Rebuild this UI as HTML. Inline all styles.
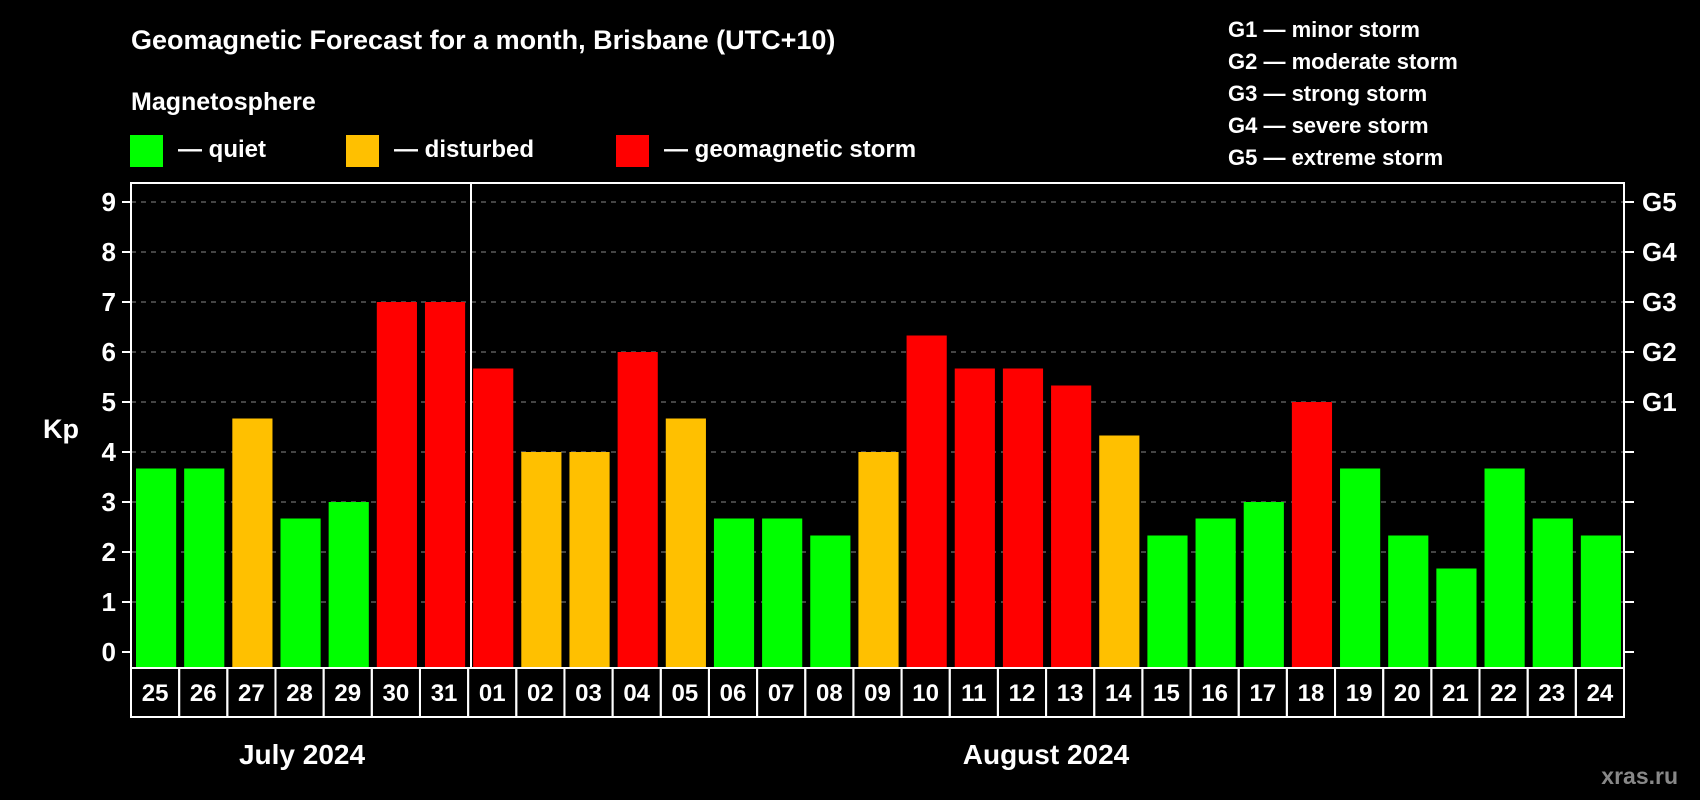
<!DOCTYPE html>
<html><head><meta charset="utf-8"><style>
body{margin:0;background:#000;}
svg{display:block;font-family:"Liberation Sans",Arial,sans-serif;font-weight:bold;}
</style></head><body>
<svg id="chart" width="1700" height="800" viewBox="0 0 1700 800">
<rect x="0" y="0" width="1700" height="800" fill="#000"/>
<text x="131" y="49" fill="#fff" font-size="27">Geomagnetic Forecast for a month, Brisbane (UTC+10)</text>
<text x="131" y="110" fill="#fff" font-size="25">Magnetosphere</text>
<rect x="130" y="135" width="33" height="32" fill="#00ff00"/>
<text x="178" y="157" fill="#fff" font-size="24">— quiet</text>
<rect x="346" y="135" width="33" height="32" fill="#ffc000"/>
<text x="394" y="157" fill="#fff" font-size="24">— disturbed</text>
<rect x="616" y="135" width="33" height="32" fill="#ff0000"/>
<text x="664" y="157" fill="#fff" font-size="24">— geomagnetic storm</text>
<g font-size="22" fill="#fff">
<text x="1228" y="37">G1 — minor storm</text>
<text x="1228" y="69">G2 — moderate storm</text>
<text x="1228" y="101">G3 — strong storm</text>
<text x="1228" y="133">G4 — severe storm</text>
<text x="1228" y="165">G5 — extreme storm</text>
</g>
<text x="43" y="438" fill="#fff" font-size="27">Kp</text>
<g id="grid"></g>
<g id="bars"></g>
<g id="cells"></g>
<rect x="131" y="183" width="1493" height="485" fill="none" stroke="#fff" stroke-width="2"/>
<line x1="471" y1="183" x2="471" y2="668" stroke="#fff" stroke-width="2"/>
<text x="302" y="764" fill="#fff" font-size="28" text-anchor="middle">July 2024</text>
<text x="1046" y="764" fill="#fff" font-size="28" text-anchor="middle">August 2024</text>
<text x="1678" y="784" fill="#888" font-size="23" text-anchor="end">xras.ru</text>
</svg>
<script>
const days = ["25","26","27","28","29","30","31","01","02","03","04","05","06","07","08","09","10","11","12","13","14","15","16","17","18","19","20","21","22","23","24"];
const kp = [3.67,3.67,4.67,2.67,3,7,7,5.67,4,4,6,4.67,2.67,2.67,2.33,4,6.33,5.67,5.67,5.33,4.33,2.33,2.67,3,5,3.67,2.33,1.67,3.67,2.67,2.33];
const yTicks = [0,1,2,3,4,5,6,7,8,9];
const gLabels = ["G1","G2","G3","G4","G5"];
const gLevels = [5,6,7,8,9];
const NS="http://www.w3.org/2000/svg";
const X0=131, X1=1624, Y0=652, PX=50;
const cw=(X1-X0)/days.length;
const y=v=>Y0-v*PX;
const xc=i=>X0+i*cw;
function mk(t,a){const e=document.createElementNS(NS,t);for(const k in a)e.setAttribute(k,a[k]);return e;}
const grid=document.getElementById('grid'),bars=document.getElementById('bars'),cells=document.getElementById('cells');
yTicks.forEach(v=>{
  if(v>0){const g=mk('line',{x1:X0,x2:X1,y1:y(v),y2:y(v),stroke:'#888','stroke-width':1,'stroke-dasharray':'5,5'});
  
  grid.appendChild(g);}
  const t1=mk('line',{x1:X0-9,x2:X0,y1:y(v),y2:y(v),stroke:'#fff','stroke-width':2});
  
  grid.appendChild(t1);
  const t2=mk('line',{x1:X1,x2:X1+10,y1:y(v),y2:y(v),stroke:'#fff','stroke-width':2});
  
  grid.appendChild(t2);
  const l=mk('text',{x:116,y:y(v)+9,fill:'#fff','font-size':26,'text-anchor':'end'});l.textContent=v;
  
  grid.appendChild(l);
});
gLabels.forEach((g,i)=>{
  const l=mk('text',{x:1642,y:y(gLevels[i])+9,fill:'#fff','font-size':26});l.textContent=g;
  
  grid.appendChild(l);
});
kp.forEach((v,i)=>{
  const c=v>=5?'#ff0000':(v>=4?'#ffc000':'#00ff00');
  const r=mk('rect',{x:xc(i)+5,y:y(v),width:cw-8,height:668-y(v),fill:c});
  
  bars.appendChild(r);
  const b=mk('rect',{x:xc(i),y:668,width:cw,height:49,fill:'none',stroke:'#fff','stroke-width':2});
  
  cells.appendChild(b);
  const t=mk('text',{x:xc(i)+cw/2,y:701,fill:'#fff','font-size':24,'text-anchor':'middle'});t.textContent=days[i];
  
  cells.appendChild(t);
});
</script>
</body></html>
